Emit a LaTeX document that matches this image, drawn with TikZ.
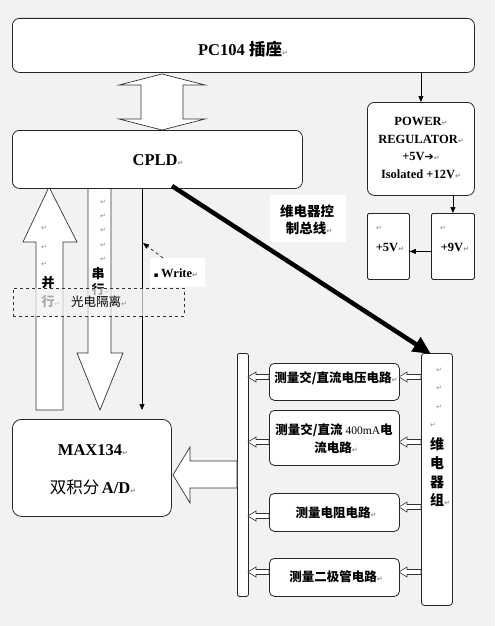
\documentclass[tikz,border=0pt]{standalone}
\usepackage{fontspec}
\setmainfont{Liberation Serif}
\newfontfamily\cjk{Noto Sans CJK SC}
\newfontfamily\dvs{DejaVu Sans}
\usetikzlibrary{arrows.meta,calc}
\definecolor{bg}{HTML}{F2F2F2}
\newcommand\pmk{{\dvs\fontsize{7}{7}\selectfont\color{black!45}↵}}
\newcommand\fs[1]{\fontsize{#1}{#1}\selectfont}
\tikzset{
  box/.style={draw=black!85, fill=white, rounded corners=7pt, line width=0.8pt, inner sep=0pt, anchor=north west},
  sqbox/.style={draw=black!85, fill=white, rounded corners=1.5pt, line width=0.8pt, inner sep=0pt, anchor=north west},
  txt/.style={inner sep=0pt, align=center},
  arr/.style={-{Triangle[length=6pt,width=5pt]}, line width=0.7pt, draw=black},
  blk/.style={draw=black!80, fill=white, line width=0.7pt, line join=miter},
}
\newcommand\harr[3]{% head x, tail x, y
  \draw[blk, line width=0.6pt] (#1,#3) -- (#1+8,#3-5) -- (#1+8,#3-2.5) -- (#2,#3-2.5) -- (#2,#3+2.5) -- (#1+8,#3+2.5) -- (#1+8,#3+5) -- cycle;}
\begin{document}
\begin{tikzpicture}[x=1pt,y=-1pt]
\useasboundingbox (0,0) rectangle (495,626);
\fill[bg] (0,0) rectangle (495,626);

% PC104
\node[box, minimum width=462, minimum height=54] (pc) at (12,18) {};
\node[txt] (pct) at (243,49) {\fs{16.5}\bfseries PC104 {\cjk 插座}\pmk};

% double arrow
\draw[blk] (162,74) -- (205,85) -- (183,85) -- (183,119) -- (205,119) -- (162,130)
  -- (119,119) -- (141,119) -- (141,85) -- (119,85) -- cycle;

% left block arrows
\draw[blk] (49,187) -- (77,242) -- (63,242) -- (63,410) -- (36,410) -- (36,242) -- (23,242) -- cycle;
\draw[blk] (88,186) -- (111,186) -- (111,353) -- (123,353) -- (100,410) -- (77,353) -- (88,353) -- cycle;

% CPLD
\node[box, minimum width=290, minimum height=58] (cpld) at (12,130) {};
\node[txt] (cpldt) at (158,160) {\fs{16.5}\bfseries CPLD\pmk};

% power regulator
\node[box, minimum width=107, minimum height=93] (pw) at (367,102) {};
\node[txt, font=\fs{12.5}\bfseries, align=center] (pwt) at (421,148)
  {POWER\pmk\\[5.3pt]REGULATOR\pmk\\[5.3pt]+5V{\dvs\fs{11}➔}\pmk\\[5.3pt]Isolated +12V\pmk};
\draw[arr] (pw.north |- pc.south) -- (pw.north);

% +5V +9V
\node[sqbox, minimum width=42, minimum height=66] (v5) at (367,213) {};
\node[sqbox, minimum width=43, minimum height=66] (v9) at (431,213) {};
\node[txt] (v5m) at (379,228) {\pmk};
\node[txt] (v5t) at (390,247) {\fs{12.5}\bfseries +5V\pmk};
\node[txt] (v9m) at (443,228) {\pmk};
\node[txt] (v9t) at (455,247) {\fs{12.5}\bfseries +9V\pmk};
\draw[arr] (v9.north |- pw.south) -- (v9.north);
\draw[arr] ([yshift=-5pt]v9.west) -- ([yshift=-5pt]v5.east);

% relay bus label
\node[fill=white, minimum width=76, minimum height=47, inner sep=0pt, anchor=north west] (lbl) at (270,195) {};
\node[txt] (lbl1) at (307,211) {\cjk\bfseries\fs{13.5}维电器控};
\node[txt] (lbl2) at (309,228) {\cjk\bfseries\fs{13.5}制总线\pmk};

% bus bar, relay group
\node[sqbox, minimum width=11, minimum height=243, rounded corners=2pt] (bus) at (237,353) {};
\node[sqbox, minimum width=31, minimum height=252, rounded corners=3pt] (rly) at (421,353) {};
\node[txt] (rm1) at (439,370) {\pmk};
\node[txt] (rm2) at (439,388) {\pmk};
\node[txt] (rm3) at (439,407) {\pmk};
\node[txt] (rm4) at (433,425) {\pmk};
\node[txt] (rly1) at (437,444) {\cjk\bfseries\fs{14}维};
\node[txt] (rly2) at (437,463) {\cjk\bfseries\fs{14}电};
\node[txt] (rly3) at (437,482) {\cjk\bfseries\fs{14}器};
\node[txt] (rly4) at (437,500) {\cjk\bfseries\fs{14}组\rlap{\pmk}};

% thick relay control bus
\coordinate (ts) at (172,186);
\coordinate (te) at (431,354);
\draw[line width=4.5pt, -{Triangle[length=18pt,width=16pt]}] (ts) -- (te);

% measurement boxes
\node[box, rounded corners=5pt, minimum width=130, minimum height=37] (b1) at (269,363) {};
\node[box, rounded corners=5pt, minimum width=130, minimum height=55] (b2) at (269,410) {};
\node[box, rounded corners=5pt, minimum width=130, minimum height=38] (b3) at (269,493) {};
\node[box, rounded corners=5pt, minimum width=130, minimum height=38] (b4) at (269,558) {};
\node[txt] (b1t) at (336,378) {\cjk\bfseries\fs{12.5}测量交/直流电压电路\pmk};
\node[txt] (b2t) at (334,430) {\cjk\bfseries\fs{12.5}测量交/直流 {\rmfamily\mdseries\fs{11.5}400mA}电};
\node[txt] (b2u) at (336,448) {\cjk\bfseries\fs{12.5}流电路\pmk};
\node[txt] (b3t) at (336,513) {\cjk\bfseries\fs{12.5}测量电阻电路\pmk};
\node[txt] (b4t) at (336,577) {\cjk\bfseries\fs{12.5}测量二极管电路\pmk};

% small hollow arrows
\harr{248}{269}{377}
\harr{248}{269}{442}
\harr{248}{269}{516}
\harr{248}{269}{572}
\harr{399}{421}{377}
\harr{399}{421}{442}
\harr{399}{421}{507}
\harr{399}{421}{572}

% MAX134
\node[box, minimum width=159, minimum height=97, rounded corners=9pt] (max) at (12,419) {};
\node[txt] (maxt) at (93,450) {\fs{16.5}\bfseries MAX134\pmk};
\node[txt] (maxu) at (93,487) {{\cjk\fs{16.5}双积分} \fs{16.5}\bfseries A/D\pmk};
\draw[blk] (173,475) -- (190,447) -- (190,461) -- (237,461) -- (237,488) -- (190,488) -- (190,503) -- cycle;

% write line
\coordinate (wtop) at (142,188);
\coordinate (wbot) at (142,410);
\draw[arr] (wtop) -- (wbot);
\node[fill=white, minimum width=55, minimum height=29, inner sep=0pt, anchor=north west] (wbox) at (150,258) {};
\node[txt] (wt) at (176,273) {{\dvs\fs{7}▪} \fs{12.5}\bfseries Write\pmk};
\coordinate (wtgt) at (143,243);
\draw[arr, dashed, line width=0.6pt] ([xshift=13pt]wbox.north west) -- (wtgt);

% arrow paragraph marks and labels
\node[txt] (um1) at (44,228) {\pmk};
\node[txt] (um2) at (44,247) {\pmk};
\node[txt] (um3) at (44,264) {\pmk};
\node[txt] (sm1) at (103,202) {\pmk};
\node[txt] (sm2) at (103,216) {\pmk};
\node[txt] (sm3) at (103,230) {\pmk};
\node[txt] (sm4) at (103,245) {\pmk};
\node[txt] (sm5) at (103,259) {\pmk};
\node[txt] (bing) at (48,283) {\cjk\bfseries\fs{13}并};
\node[txt] (hang1) at (48,302) {\cjk\bfseries\fs{13}行\rlap{\pmk}};
\node[txt] (chuan) at (98,274) {\cjk\bfseries\fs{13}串};
\node[txt] (hang2) at (98,290) {\cjk\bfseries\fs{13}行\rlap{\pmk}};

% opto isolation dashed box
\node[draw=black!80, dashed, line width=0.6pt, fill=bg, fill opacity=0.7, draw opacity=1,
  minimum width=171, minimum height=28, inner sep=0pt, anchor=north west] (iso) at (13,288) {};
\node[txt] (isot) at (99,302) {\cjk\fs{12.5}光电隔离\pmk};
\end{tikzpicture}
\end{document}
